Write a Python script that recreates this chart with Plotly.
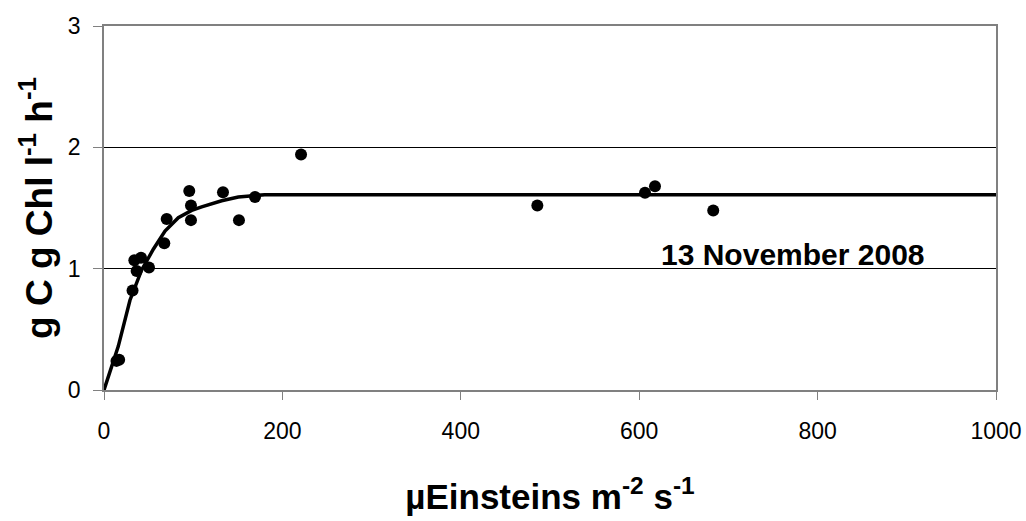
import plotly.graph_objects as go

# Measured data points (light vs. productivity)
obs_x = [14, 17, 32, 34, 36.6, 41.5, 50.4, 67.6, 70.3, 95.6, 97.5, 97.5, 133.4, 151.3, 169.3, 220.9,
         485.8, 606.5, 617.7, 683]
obs_y = [0.24, 0.25, 0.82, 1.07, 0.98, 1.09, 1.01, 1.21, 1.41, 1.64, 1.52, 1.40, 1.63, 1.40, 1.59, 1.94,
         1.52, 1.625, 1.68, 1.48]

# Fitted curve
fit_x = [0, 16, 29.1, 42.2, 55.3, 68.4, 83.3, 98.3, 109.5, 131.9, 150.6, 169.3, 180, 1000]
fit_y = [0, 0.36, 0.74, 0.99, 1.16, 1.31, 1.42, 1.48, 1.51, 1.56, 1.59, 1.60, 1.61, 1.61]

x_ticks = [0, 200, 400, 600, 800, 1000]
y_ticks = [0, 1, 2, 3]

FONT = "Liberation Sans, Arial, sans-serif"

fig = go.Figure()
fig.add_trace(go.Scatter(x=fit_x, y=fit_y, mode="lines",
                         line=dict(color="black", width=3.5), showlegend=False, hoverinfo="skip"))
fig.add_trace(go.Scatter(x=obs_x, y=obs_y, mode="markers",
                         marker=dict(color="black", size=12), showlegend=False))

fig.add_annotation(x=772, y=1.115, text="<b>13 November 2008</b>", showarrow=False,
                   font=dict(family=FONT, size=30, color="black"))

fig.update_layout(
    width=1026, height=521,
    margin=dict(l=104, r=30, t=26, b=131),
    paper_bgcolor="white", plot_bgcolor="white",
    font=dict(family=FONT, color="black"),
    xaxis=dict(range=[0, 1000], tickvals=x_ticks, ticktext=[str(v) for v in x_ticks],
               showgrid=False, zeroline=False, automargin=False,
               showline=True, linecolor="#808080", linewidth=1.5, mirror=True,
               ticks="outside", ticklen=8, tickcolor="#808080",
               ticklabelstandoff=12,
               tickfont=dict(size=23, family=FONT),
               title=dict(text="<b>µEinsteins m<sup>-2</sup> s<sup>-1</sup></b>",
                          font=dict(size=35, family=FONT), standoff=41)),
    yaxis=dict(range=[0, 3], tickvals=y_ticks, ticktext=[str(v) for v in y_ticks],
               showgrid=True, gridcolor="black", gridwidth=1, zeroline=False, automargin=False,
               showline=True, linecolor="#808080", linewidth=1.5, mirror=True,
               ticks="outside", ticklen=9, tickcolor="#808080",
               ticklabelstandoff=8,
               tickfont=dict(size=23, family=FONT),
               title=dict(text="<b>g C g Chl l<sup>-1</sup> h<sup>-1</sup></b>",
                          font=dict(size=37, family=FONT), standoff=4)),
)

fig.write_html("out.html")
